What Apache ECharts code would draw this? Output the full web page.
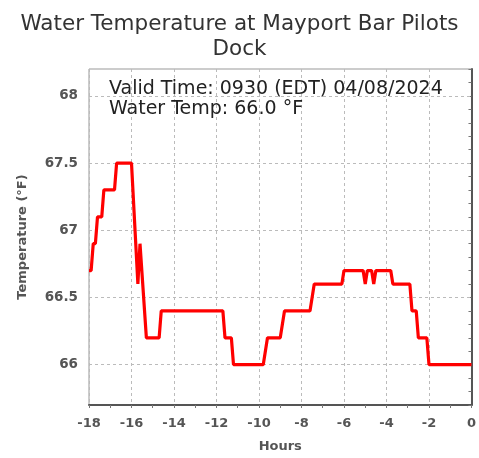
<!DOCTYPE html>
<html><head><meta charset="utf-8">
<script src="https://cdn.jsdelivr.net/npm/echarts@6/dist/echarts.min.js"></script>
<style>html,body{margin:0;padding:0;background:#fff}#c{width:479px;height:458px}</style>
</head><body><div id="c"></div>
<script>
const hours = [-18.0,-17.9,-17.8,-17.7,-17.6,-17.4,-17.3,-16.8,-16.7,-16.0,-15.7,-15.6,-15.3,-14.7,-14.6,-11.7,-11.6,-11.3,-11.2,-9.8,-9.6,-9.0,-8.8,-7.6,-7.4,-6.1,-6.0,-5.1,-5.0,-4.9,-4.7,-4.6,-4.5,-3.8,-3.7,-2.9,-2.8,-2.6,-2.5,-2.1,-2.0,0.0];
const temps = [66.7,66.7,66.9,66.9,67.1,67.1,67.3,67.3,67.5,67.5,66.6,66.9,66.2,66.2,66.4,66.4,66.2,66.2,66.0,66.0,66.2,66.2,66.4,66.4,66.6,66.6,66.7,66.7,66.6,66.7,66.7,66.6,66.7,66.7,66.6,66.6,66.4,66.4,66.2,66.2,66.0,66.0];
const yGridValues = [66, 66.5, 67, 67.5, 68];
const titleText = 'Water Temperature at Mayport Bar Pilots\nDock';
const infoLines = ['Valid Time: 0930 (EDT) 04/08/2024', 'Water Temp: 66.0 °F'];
const xTitle = 'Hours';
const yTitle = 'Temperature (°F)';

const chart = echarts.init(document.getElementById('c'), null, {renderer: 'canvas'});
const font = 'DejaVu Sans';
const gridLine = {color: '#bbb', type: [3, 3], width: 1};
chart.setOption({
  animation: false,
  title: [{
    text: titleText, left: 'center', top: 7,
    textStyle: {fontFamily: font, fontSize: 21.5, fontWeight: 'normal', color: '#333', lineHeight: 25}
  }, {
    text: infoLines.join('\n'), left: 104, top: 74,
    textStyle: {fontFamily: font, fontSize: 19, fontWeight: 'normal', color: '#222', lineHeight: 20}
  }],
  grid: {left: 89, right: 5, top: 69, bottom: 50, show: true, borderColor: '#999', borderWidth: 1, containLabel: false},
  xAxis: {
    type: 'value', min: -18, max: 0, interval: 2,
    name: xTitle, nameLocation: 'middle', nameGap: 35,
    nameTextStyle: {fontFamily: font, fontSize: 13, fontWeight: 'bold', color: '#555'},
    axisLine: {show: true, lineStyle: {color: '#555', width: 2}},
    axisTick: {show: true, length: 3, inside: false, lineStyle: {color: '#777'}},
    minorTick: {show: true, splitNumber: 2, length: 3, lineStyle: {color: '#777'}},
    axisLabel: {fontFamily: font, fontSize: 13, fontWeight: 'bold', color: '#555', margin: 12},
    splitLine: {show: true, lineStyle: gridLine}
  },
  yAxis: {
    type: 'value', min: 65.7, max: 68.2, interval: 0.1,
    name: yTitle, nameLocation: 'middle', nameGap: 60, nameRotate: 90,
    nameTextStyle: {fontFamily: font, fontSize: 13, fontWeight: 'bold', color: '#555'},
    axisLine: {show: true, lineStyle: {color: '#555', width: 2}},
    axisTick: {show: true, length: 3, lineStyle: {color: '#777'}},
    axisLabel: {fontFamily: font, fontSize: 13.5, fontWeight: 'bold', color: '#555', margin: 11,
      formatter: v => {
        const r = Math.round(v * 10) / 10;
        return yGridValues.some(g => Math.abs(g - r) < 1e-6) ? String(r) : '';
      }},
    splitLine: {show: false}
  },
  series: [{
    type: 'line', data: hours.map((h, i) => [h, temps[i]]),
    showSymbol: false, lineStyle: {color: '#ff0000', width: 3.2}, itemStyle: {color: '#ff0000'},
    z: 3,
    markLine: {
      silent: true, symbol: ['none', 'none'], label: {show: false},
      lineStyle: gridLine, z: 1,
      data: yGridValues.map(v => ({yAxis: v}))
    }
  }]
});
</script></body></html>
